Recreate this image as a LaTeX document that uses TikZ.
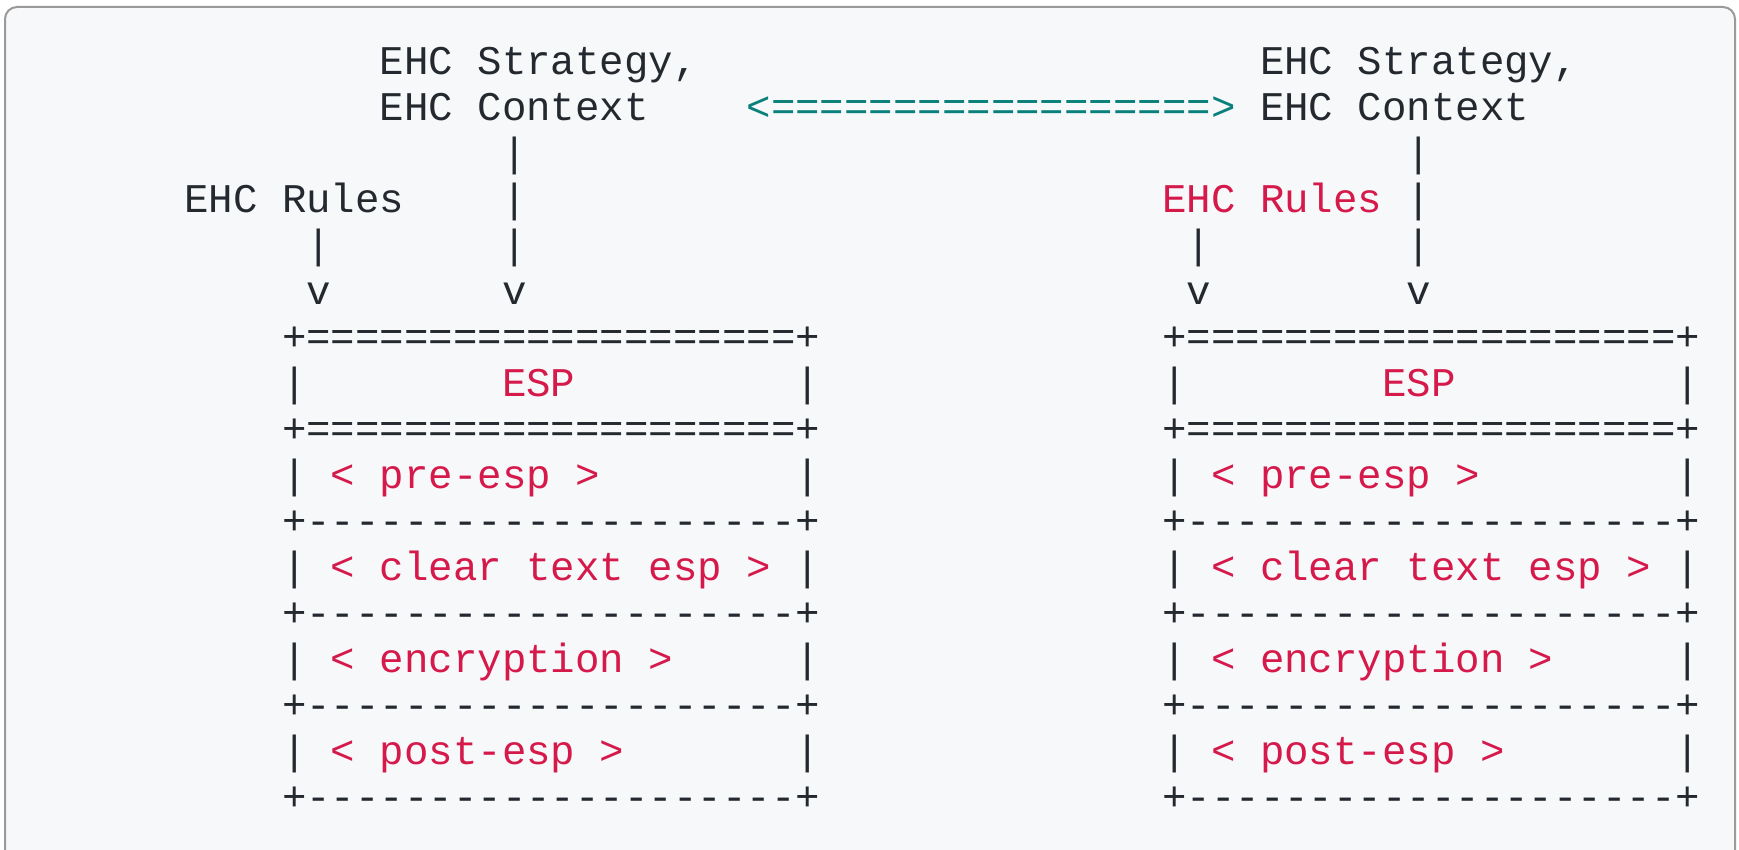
\documentclass[tikz,border=0pt]{standalone}
\usepackage{fontspec}
\setmonofont{Liberation Mono}
\definecolor{bg}{HTML}{F6F8FA}
\definecolor{frame}{HTML}{9A9A9A}
\definecolor{ink}{HTML}{24292F}
\definecolor{hl}{HTML}{D6194B}
\definecolor{arr}{HTML}{0A807A}
\tikzset{
  txt/.style={anchor=base west, inner sep=0pt, outer sep=0pt, text=ink,
    font=\ttfamily\fontsize{20.375}{24}\selectfont},
  red/.style={txt, text=hl},
  teal/.style={txt, text=arr},
}
\newcommand\cx[1]{184.2+(#1)*24.45}
\newcommand\ry[1]{75+(#1)*45.96}
\begin{document}
\begin{tikzpicture}[x=0.5pt,y=-0.5pt]
\useasboundingbox (0,0) rectangle (1739,850);
\fill[white] (0,0) rectangle (1739,850);
\draw[frame, line width=1pt, fill=bg, rounded corners=6] (5,7) rectangle (1735,900);
% top labels
\node[txt] (ls1) at ({\cx{8}},{\ry{0}}) {EHC Strategy,};
\node[txt] (ls2) at ({\cx{8}},{\ry{1}}) {EHC Context};
\node[txt] (rs1) at ({\cx{44}},{\ry{0}}) {EHC Strategy,};
\node[txt] (rs2) at ({\cx{44}},{\ry{1}}) {EHC Context};
\node[teal] (sync) at ({\cx{23}},{\ry{1}}) {<==================>};
\node[txt] (lrules) at ({\cx{0}},{\ry{3}}) {EHC Rules};
\node[red] (rrules) at ({\cx{40}},{\ry{3}}) {EHC Rules};
% vertical connectors (ASCII)
\foreach \k/\s in {13/l, 50/r} {
  \node[txt] (\s c2) at ({\cx{\k}},{\ry{2}}) {|};
  \node[txt] (\s c3) at ({\cx{\k}},{\ry{3}}) {|};
  \node[txt] (\s c4) at ({\cx{\k}},{\ry{4}}) {|};
  \node[txt] (\s c5) at ({\cx{\k}},{\ry{5}}) {v};
}
\foreach \k/\s in {5/l, 41/r} {
  \node[txt] (\s p4) at ({\cx{\k}},{\ry{4}}) {|};
  \node[txt] (\s p5) at ({\cx{\k}},{\ry{5}}) {v};
}
% boxes
\foreach \bx/\s in {4/l, 40/r} {
  \node[txt] (\s top) at ({\cx{\bx}},{\ry{6}}) {+====================+};
  \node[txt] (\s a7) at ({\cx{\bx}},{\ry{7}}) {|};
  \node[red] (\s esp) at ({\cx{\bx+9}},{\ry{7}}) {ESP};
  \node[txt] (\s b7) at ({\cx{\bx+21}},{\ry{7}}) {|};
  \node[txt] (\s mid) at ({\cx{\bx}},{\ry{8}}) {+====================+};
  \node[txt] (\s a9) at ({\cx{\bx}},{\ry{9}}) {|};
  \node[red] (\s pre) at ({\cx{\bx+2}},{\ry{9}}) {< pre-esp >};
  \node[txt] (\s b9) at ({\cx{\bx+21}},{\ry{9}}) {|};
  \node[txt] (\s d10) at ({\cx{\bx}},{\ry{10}}) {+--------------------+};
  \node[txt] (\s a11) at ({\cx{\bx}},{\ry{11}}) {|};
  \node[red] (\s clear) at ({\cx{\bx+2}},{\ry{11}}) {< clear text esp >};
  \node[txt] (\s b11) at ({\cx{\bx+21}},{\ry{11}}) {|};
  \node[txt] (\s d12) at ({\cx{\bx}},{\ry{12}}) {+--------------------+};
  \node[txt] (\s a13) at ({\cx{\bx}},{\ry{13}}) {|};
  \node[red] (\s enc) at ({\cx{\bx+2}},{\ry{13}}) {< encryption >};
  \node[txt] (\s b13) at ({\cx{\bx+21}},{\ry{13}}) {|};
  \node[txt] (\s d14) at ({\cx{\bx}},{\ry{14}}) {+--------------------+};
  \node[txt] (\s a15) at ({\cx{\bx}},{\ry{15}}) {|};
  \node[red] (\s post) at ({\cx{\bx+2}},{\ry{15}}) {< post-esp >};
  \node[txt] (\s b15) at ({\cx{\bx+21}},{\ry{15}}) {|};
  \node[txt] (\s bot) at ({\cx{\bx}},{\ry{16}}) {+--------------------+};
}
\end{tikzpicture}
\end{document}
